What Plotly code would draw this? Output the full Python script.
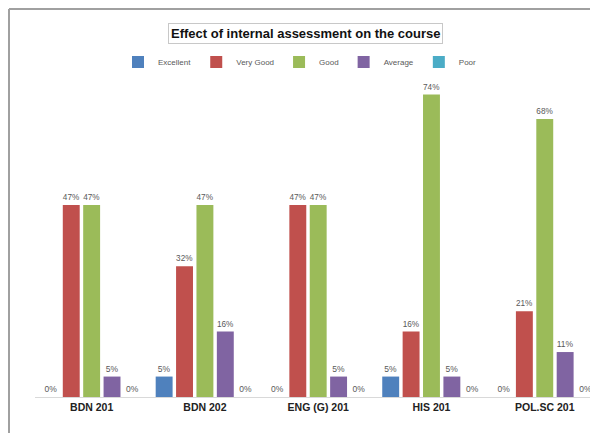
import plotly.graph_objects as go

categories = ["BDN 201", "BDN 202", "ENG (G) 201", "HIS 201", "POL.SC 201"]
series_names = ["Excellent", "Very Good", "Good", "Average", "Poor"]
excellent = [0, 5, 0, 5, 0]
very_good = [47, 32, 47, 16, 21]
good = [47, 47, 47, 74, 68]
average = [5, 16, 5, 5, 11]
poor = [0, 0, 0, 0, 0]
colors = ["#4F81BD", "#C0504D", "#9BBB59", "#8064A2", "#4BACC6"]

values = [excellent, very_good, good, average, poor]

# page body has an 8px margin, so the figure is drawn from (8, 8)
OFF = 8
W, H = 598 - OFF, 433 - OFF
L, R, T, B = 35 - OFF, 0, 70 - OFF, 433 - 397
pw, ph = W - L - R, H - T - B

def px(x):
    return (x - OFF - L) / pw

def py(y):
    return (H - B - (y - OFF)) / ph

fig = go.Figure()
for name, vals, col in zip(series_names, values, colors):
    fig.add_trace(go.Bar(
        name=name, x=categories, y=vals, marker=dict(color=col, line=dict(width=0)),
        text=[f"{v}%" for v in vals],
        textposition="outside",
        textfont=dict(size=8.5, color="#595959", family="Liberation Sans"),
        cliponaxis=False,
    ))

fig.update_layout(
    width=W, height=H,
    margin=dict(l=L, r=R, t=T, b=B, autoexpand=False),
    paper_bgcolor="white", plot_bgcolor="white",
    barmode="group", bargap=0.10, bargroupgap=0.17,
    showlegend=True,
    legend=dict(orientation="h", x=px(300), xanchor="center", y=py(62), yanchor="middle",
                font=dict(size=8, color="#595959", family="Liberation Sans"),
                bgcolor="rgba(0,0,0,0)",
                itemwidth=30, tracegroupgap=0, itemclick=False),
    xaxis=dict(range=[-0.5, 4.47], showline=True, linecolor="#D9D9D9", linewidth=1,
               ticks="", tickfont=dict(size=10.5, color="#222222", family="Liberation Sans"),
               showgrid=False, automargin=False),
    yaxis=dict(range=[0, 80], visible=False, showgrid=False),
)

fig.update_xaxes(tickprefix="<b>", ticksuffix="</b>")

fig.add_annotation(
    x=px(305), y=py(33), xref="paper", yref="paper", yanchor="middle",
    text="<b>Effect of internal assessment on the course</b>", showarrow=False,
    font=dict(size=13, color="#111111", family="Liberation Sans"),
    bordercolor="#C8C8C8", borderwidth=1, borderpad=2, bgcolor="white",
)

fig.add_shape(type="line", xref="paper", yref="paper",
              x0=px(9), x1=px(598), y0=py(9), y1=py(9),
              line=dict(color="#A0A0A0", width=2))
fig.add_shape(type="line", xref="paper", yref="paper",
              x0=px(9), x1=px(9), y0=py(9), y1=py(433),
              line=dict(color="#A0A0A0", width=2))

fig.write_html("out.html")
